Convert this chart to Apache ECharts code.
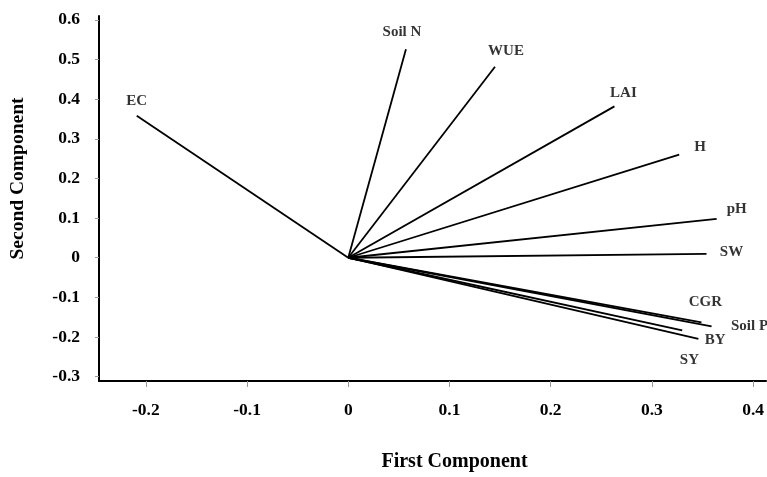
<!DOCTYPE html>
<html>
<head>
<meta charset="utf-8">
<script src="https://cdn.jsdelivr.net/npm/echarts@6/dist/echarts.min.js"></script>
<style>
html,body{margin:0;padding:0;background:#fff;overflow:hidden;width:100%;height:100%;}
#chart{position:absolute;left:0;top:0;width:767px;height:477px;}
</style>
</head>
<body>
<div id="chart"></div>
<script>
// Variable names and loadings (PC1, PC2)
const variables = ['EC', 'Soil N', 'WUE', 'LAI', 'H', 'pH', 'SW', 'CGR', 'Soil P', 'BY', 'SY'];
const pc1 = [-0.209, 0.057, 0.145, 0.263, 0.327, 0.364, 0.354, 0.349, 0.359, 0.330, 0.346];
const pc2 = [0.358, 0.526, 0.482, 0.382, 0.260, 0.098, 0.010, -0.163, -0.173, -0.183, -0.205];
const xTicks = [-0.2, -0.1, 0, 0.1, 0.2, 0.3, 0.4];
const yTicks = [-0.3, -0.2, -0.1, 0, 0.1, 0.2, 0.3, 0.4, 0.5, 0.6];

// label placement (pixel offsets of label centre from the vector tip)
const labelOffsets = [[0,-15],[-4,-17],[11,-16],[9,-13],[21,-8],[20,-10],[25,-2],[4,-20],[38,0],[33,10],[-9,21]];

const FONT = '"Liberation Serif","Times New Roman",serif';
const chart = echarts.init(document.getElementById('chart'), null, {renderer:'canvas'});

const lineSeries = variables.map((name, i) => ({
  type: 'line',
  name: name,
  data: [[0, 0], [pc1[i], pc2[i]]],
  showSymbol: false,
  symbol: 'none',
  silent: true,
  lineStyle: { color: '#000', width: 1.8 },
  z: 3
}));

const labelSeries = {
  type: 'scatter',
  symbolSize: 0,
  silent: true,
  data: variables.map((name, i) => ({
    value: [pc1[i], pc2[i]],
    name: name,
    label: {
      show: true,
      position: 'inside',
      offset: labelOffsets[i],
      formatter: name,
      align: 'center',
      verticalAlign: 'middle',
      color: '#000',
      fontFamily: FONT,
      fontWeight: 'bold',
      fontSize: 15
    }
  })),
  z: 4
};

chart.setOption({
  animation: false,
  backgroundColor: '#fff',
  grid: { left: 99, right: 0, top: 16, bottom: 88, containLabel: false },
  xAxis: {
    type: 'value',
    min: -0.2463,
    max: 0.4128,
    name: 'First Component',
    nameLocation: 'middle',
    nameGap: 71,
    nameTextStyle: { fontFamily: FONT, fontWeight: 'bold', fontSize: 20, color: '#000', padding: [0, 0, 0, 44] },
    axisLine: { show: true, onZero: false, lineStyle: { color: '#000', width: 2 } },
    axisTick: { show: true, inside: false, length: 6, customValues: xTicks, lineStyle: { color: '#999', width: 1 } },
    axisLabel: { show: true, customValues: xTicks, margin: 20, fontFamily: FONT, fontWeight: 'bold', fontSize: 17.5, color: '#000',
      formatter: v => String(Math.round(v * 10) / 10) },
    splitLine: { show: false }
  },
  yAxis: {
    type: 'value',
    min: -0.311,
    max: 0.61,
    name: 'Second Component',
    nameLocation: 'middle',
    nameRotate: 90,
    nameGap: 71,
    nameTextStyle: { fontFamily: FONT, fontWeight: 'bold', fontSize: 19.5, color: '#000', padding: [0, 0, 0, 40] },
    axisLine: { show: true, onZero: false, lineStyle: { color: '#000', width: 2 } },
    axisTick: { show: true, inside: false, length: 4, customValues: yTicks, lineStyle: { color: '#999', width: 1 } },
    axisLabel: { show: true, customValues: yTicks, margin: 19, fontFamily: FONT, fontWeight: 'bold', fontSize: 17.5, color: '#000',
      formatter: v => String(Math.round(v * 10) / 10) },
    splitLine: { show: false }
  },
  series: lineSeries.concat([labelSeries])
});
</script>
</body>
</html>
